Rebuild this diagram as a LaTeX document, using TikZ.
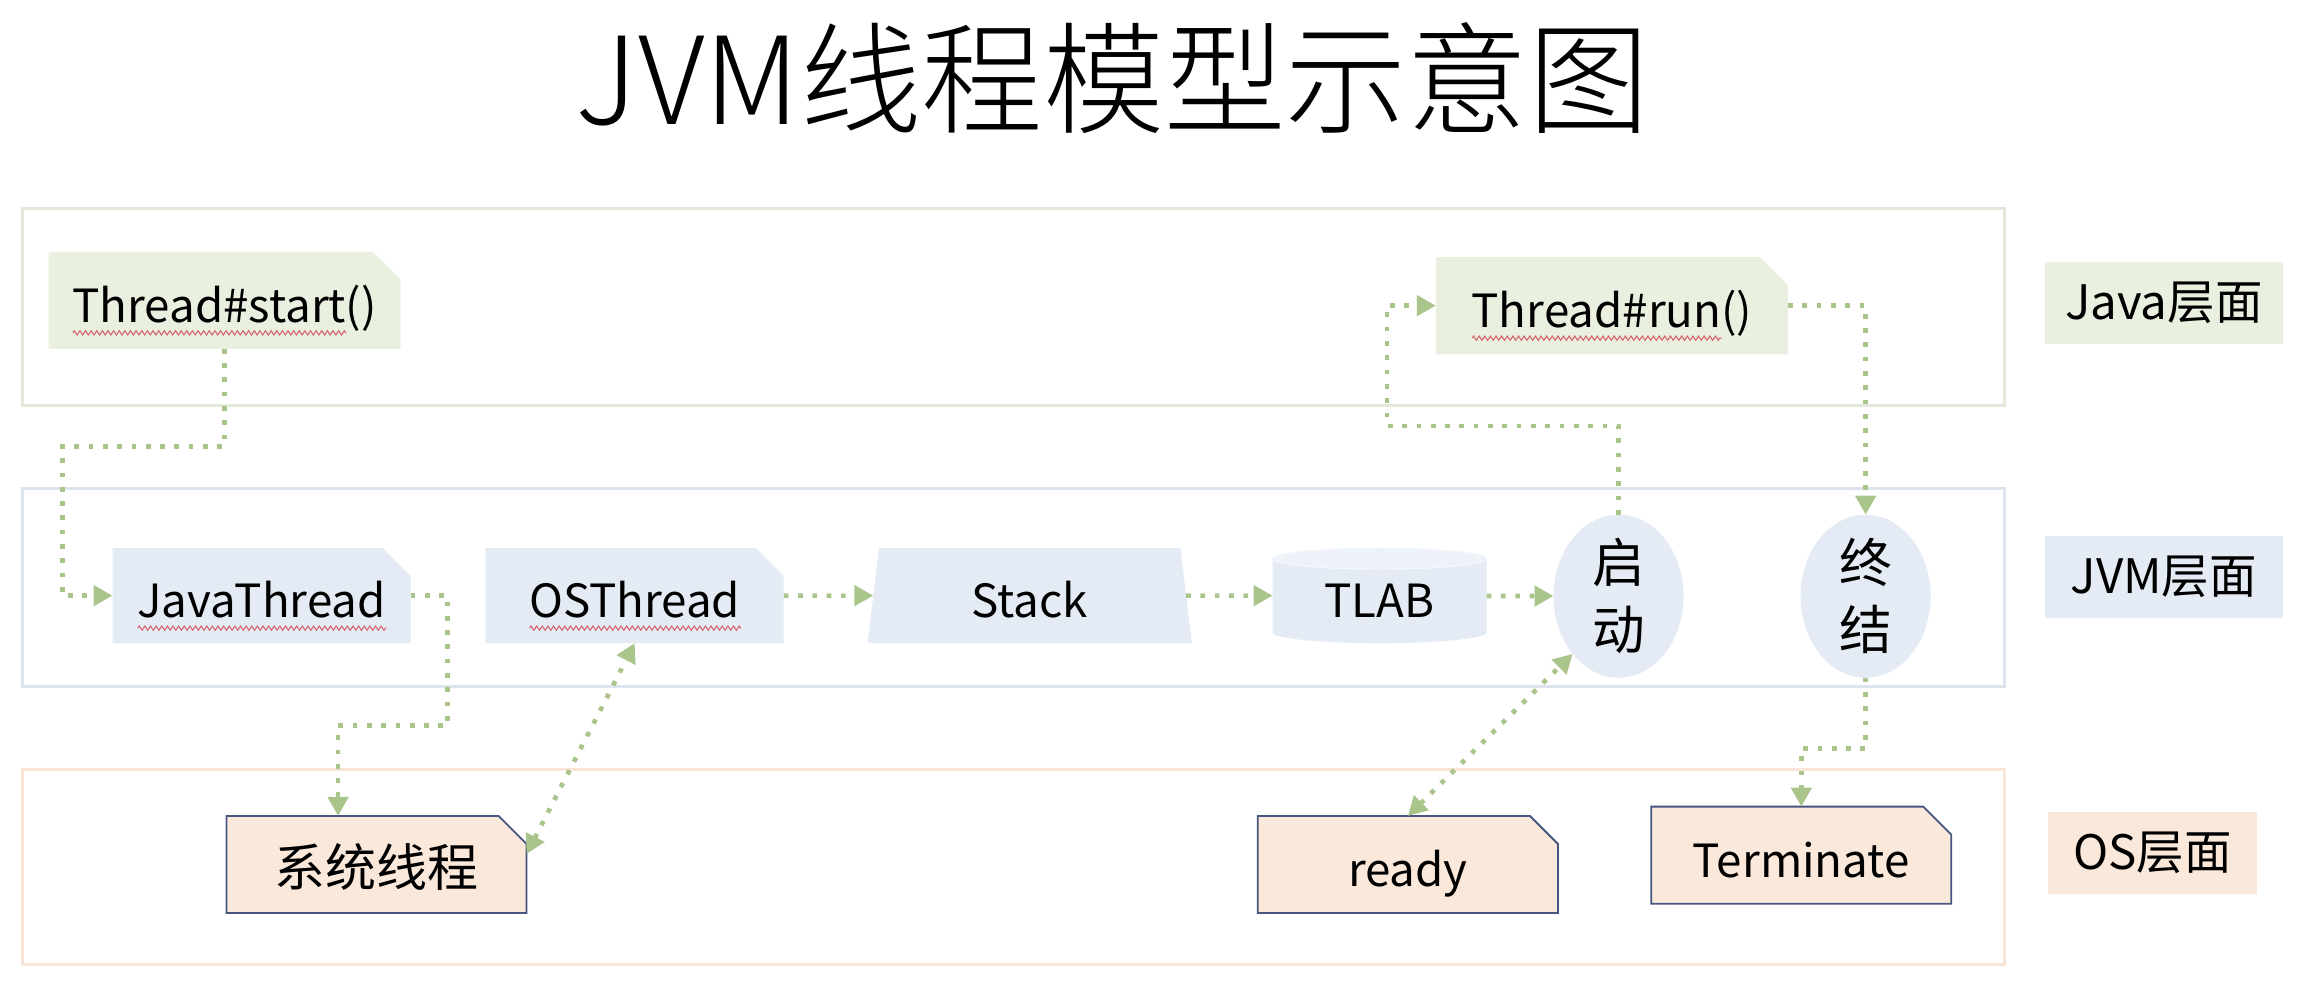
\documentclass[tikz,border=0pt]{standalone}
\usepackage{fontspec}
\setmainfont{Noto Sans CJK SC}
\newfontfamily\titlefont{Noto Sans CJK SC Light}
\usetikzlibrary{positioning,arrows.meta,shapes.misc,shapes.geometric,calc,backgrounds}
\usetikzlibrary{decorations.pathmorphing}

\definecolor{javafill}{RGB}{233,240,224}
\definecolor{jvmfill}{RGB}{228,235,245}
\definecolor{jvmtop}{RGB}{237,241,248}
\definecolor{osfill}{RGB}{250,232,219}
\definecolor{osline}{RGB}{70,86,128}
\definecolor{javaline}{RGB}{226,233,219}
\definecolor{jvmline}{RGB}{222,228,237}
\definecolor{osframe}{RGB}{249,228,216}
\definecolor{dotgreen}{RGB}{170,197,140}
\definecolor{wavered}{RGB}{214,98,110}

\newsavebox\spellbox
\newcommand\spell[1]{\sbox\spellbox{#1}\edef\spellw{\the\wd\spellbox}%
  \rlap{\tikz[baseline=0pt]\draw[wavered, line width=0.3pt, decorate,
    decoration={zigzag, segment length=1.6pt, amplitude=0.6pt}] (0pt,-3pt) -- (\spellw,-3pt);}%
  \usebox\spellbox}

\tikzset{
  title/.style={anchor=base, font=\titlefont\fontsize{34.5}{41}\selectfont},
  label text/.style={text height=14.5pt, text depth=2pt, font=\fontsize{13}{16}\selectfont},
  snip/.style={chamfered rectangle, chamfered rectangle corners=north east,
    chamfered rectangle xsep=1.4mm, chamfered rectangle ysep=1.4mm,
    inner sep=0pt, outer sep=0pt, label text},
  javanode/.style={snip, fill=javafill, minimum width=35.2mm, minimum height=9.7mm},
  jvmnode/.style={snip, fill=jvmfill, minimum width=29.8mm, minimum height=9.5mm},
  osnode/.style={snip, fill=osfill, draw=osline, line width=0.18mm,
    minimum width=30mm, minimum height=9.7mm},
  state/.style={ellipse, fill=jvmfill, inner sep=0pt, outer sep=0pt, align=center,
    minimum width=13mm, minimum height=13.3mm, font=\fontsize{15}{19}\selectfont},
  tag/.style={rectangle, inner sep=0pt, outer sep=0pt, minimum height=8.2mm,
    font=\fontsize{13.5}{16}\selectfont},
  layer/.style={line width=0.3mm},
  dotarrow/.style={draw=dotgreen, line width=0.47mm, dash pattern=on 0.47mm off 0.96mm, ->},
  twoway/.style={dotarrow, <->}
}

\begin{document}
\begin{tikzpicture}[x=0.1479mm, y=-0.1479mm, >={Triangle[length=1.9mm,width=2mm]}]
  \useasboundingbox (0,0) rectangle (1560,678.6);

  \node[title] (title) at (752,84) {JVM线程模型示意图};

  \draw[layer, javaline] (15,141) rectangle (1355,274);
  \draw[layer, jvmline]  (15,330) rectangle (1355,464);
  \draw[layer, osframe]  (15,520) rectangle (1355,652);

  \node[tag, fill=javafill, minimum width=23.8mm] (javatag) at (1462.5,205) {Java层面};
  \node[tag, fill=jvmfill,  minimum width=23.8mm] (jvmtag)  at (1462.5,390) {JVM层面};
  \node[tag, fill=osfill,   minimum width=20.9mm] (ostag)   at (1455,576.5) {OS层面};

  % Java
  \node[javanode] (tstart) at (151.8,203)  {\spell{Thread\#start}()};
  \node[javanode] (trun)   at (1089.5,206.6) {\spell{Thread\#run}()};

  % JVM
  \node[jvmnode] (javathread) at (176.8,402.6) {\spell{JavaThread}};
  \node[jvmnode, right=7.5mm of javathread] (osthread) {\spell{OSThread}};
  \node[trapezium, trapezium left angle=79, trapezium right angle=79,
    trapezium stretches body, fill=jvmfill, inner sep=0pt, outer sep=0pt,
    minimum width=32.4mm, minimum height=9.5mm, label text]
    (stack) at (696,402.6) {Stack};
  \node[rectangle, inner sep=0pt, outer sep=0pt, minimum width=21.4mm, minimum height=7.4mm,
    label text] (tlab) at (932.5,402.6) {TLAB};
  \begin{pgfonlayer}{background}
    \fill[jvmfill] (tlab.north west) -- (tlab.south west)
      arc[start angle=180, end angle=360, x radius=10.7mm, y radius=1.05mm]
      -- (tlab.north east)
      arc[start angle=0, end angle=180, x radius=10.7mm, y radius=1.05mm] -- cycle;
    \draw[white!40!jvmtop, fill=jvmtop, line width=0.12mm] (tlab.north west)
      arc[start angle=180, end angle=540, x radius=10.7mm, y radius=1.05mm];
  \end{pgfonlayer}
  \node[state] (qidong)   at (1094,403) {启\\动};
  \node[state] (zhongjie) at (1261,403) {终\\结};

  % OS
  \node[osnode, font=\fontsize{14.5}{17}\selectfont] (xitong) at (254.5,584.3) {系统线程};
  \node[osnode] (ready)     at (951.6,584.3) {ready};
  \node[osnode] (terminate) at (1217.5,578)  {Terminate};

  \draw[dotarrow] (tstart.south) -- ++(0,66) -| ($(javathread.west)+(-34,0)$) -- (javathread.west);
  \draw[dotarrow] (javathread.east) -- ++(25,0) -- ++(0,88) -| ($(xitong.north)+(-26,0)$);
  \draw[twoway]   (xitong.4) -- (osthread.south);
  \draw[dotarrow] (osthread) -- (stack);
  \draw[dotarrow] (stack) -- (tlab);
  \draw[dotarrow] (tlab) -- (qidong);
  \draw[dotarrow] (qidong.north) -- ++(0,-60) -| ($(trun.west)+(-33,0)$) -- (trun.west);
  \draw[dotarrow] (trun.east) -| (zhongjie.north);
  \draw[dotarrow] (zhongjie.south) -- ++(0,48) -| (terminate.north);
  \draw[twoway]   (ready.north) -- (qidong.south west);
\end{tikzpicture}
\end{document}
